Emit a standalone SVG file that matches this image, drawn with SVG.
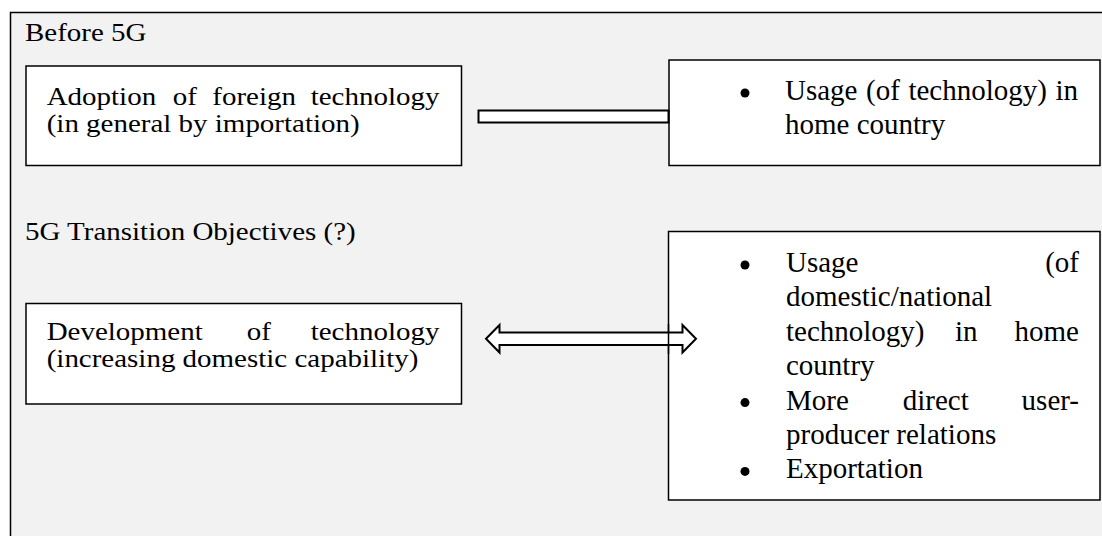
<svg xmlns="http://www.w3.org/2000/svg" width="1102" height="536" viewBox="0 0 1102 536">
  <style>
    text { font-family: "Liberation Serif", "Times New Roman", serif; fill: #000; font-size: 29px; }
    .wide text { font-size: 26px; }
    .box { fill: #fff; stroke: #000; stroke-width: 1.5; }
    .bar { fill: #fff; stroke: #000; stroke-width: 2; stroke-linejoin: miter; }
    .dot { fill: #000; }
  </style>

  <rect x="0" y="0" width="1102" height="536" fill="#fff"/>

  <!-- outer panel, open to the right and bottom -->
  <g id="panel">
    <rect x="10.5" y="12.5" width="1110" height="540" fill="#f2f2f2" stroke="#000" stroke-width="1.5"/>
    <g class="wide" transform="scale(1.115 1)">
      <text x="22.42" y="41">Before 5G</text>
      <text x="22.42" y="240">5G Transition Objectives (?)</text>
    </g>
  </g>

  <!-- before: foreign technology -->
  <g id="adoption">
    <rect class="box" x="26" y="66" width="435.5" height="99.5"/>
    <g class="wide" transform="scale(1.115 1)">
      <text x="41.88" y="105">Adoption</text>
      <text x="154.89" y="105">of</text>
      <text x="190.4" y="105">foreign</text>
      <text x="278.65" y="105">technology</text>
      <text x="41.88" y="132">(in general by importation)</text>
    </g>
  </g>

  <!-- before: usage at home -->
  <g id="usage-before">
    <rect class="box" x="669" y="60" width="431" height="105.5"/>
    <circle class="dot" cx="745" cy="93" r="4.5"/>
    <text x="785" y="100" word-spacing="1.3">Usage (of technology) in</text>
    <text x="785" y="134">home country</text>
  </g>

  <!-- transition: domestic development -->
  <g id="development">
    <rect class="box" x="26" y="303.5" width="435.5" height="100.5"/>
    <g class="wide" transform="scale(1.115 1)">
      <text x="41.88" y="340">Development</text>
      <text x="221.26" y="340">of</text>
      <text x="278.65" y="340">technology</text>
      <text x="41.88" y="367">(increasing domestic capability)</text>
    </g>
  </g>

  <!-- transition: usage, relations, export -->
  <g id="usage-after">
    <rect class="box" x="668.5" y="231.5" width="431.5" height="268.5"/>
    <circle class="dot" cx="745" cy="265" r="4.5"/>
    <text x="786" y="272">Usage</text>
    <text x="1079" y="272" text-anchor="end">(of</text>
    <text x="786" y="306.4">domestic/national</text>
    <text x="786" y="340.8">technology)</text>
    <text x="955" y="340.8">in</text>
    <text x="1079" y="340.8" text-anchor="end">home</text>
    <text x="786" y="375.2">country</text>
    <circle class="dot" cx="745" cy="402.6" r="4.5"/>
    <text x="786" y="409.6">More</text>
    <text x="902.7" y="409.6">direct</text>
    <text x="1079" y="409.6" text-anchor="end">user-</text>
    <text x="786" y="444">producer relations</text>
    <circle class="dot" cx="745" cy="471.4" r="4.5"/>
    <text x="786" y="478.4">Exportation</text>
  </g>

  <g id="connectors">
    <!-- plain bar: adoption to usage -->
    <rect class="bar" x="478.5" y="110.5" width="190" height="12"/>
    <!-- double block arrow: development and usage -->
    <polygon class="bar" points="486,338.7 499.5,325 499.5,332.5 682.5,332.5 682.5,325 696,338.7 682.5,352.5 682.5,345 499.5,345 499.5,352.5"/>
    <!-- box edge crossing the arrow -->
    <line x1="668.5" y1="324" x2="668.5" y2="354" stroke="#000" stroke-width="1.5"/>
  </g>
</svg>
